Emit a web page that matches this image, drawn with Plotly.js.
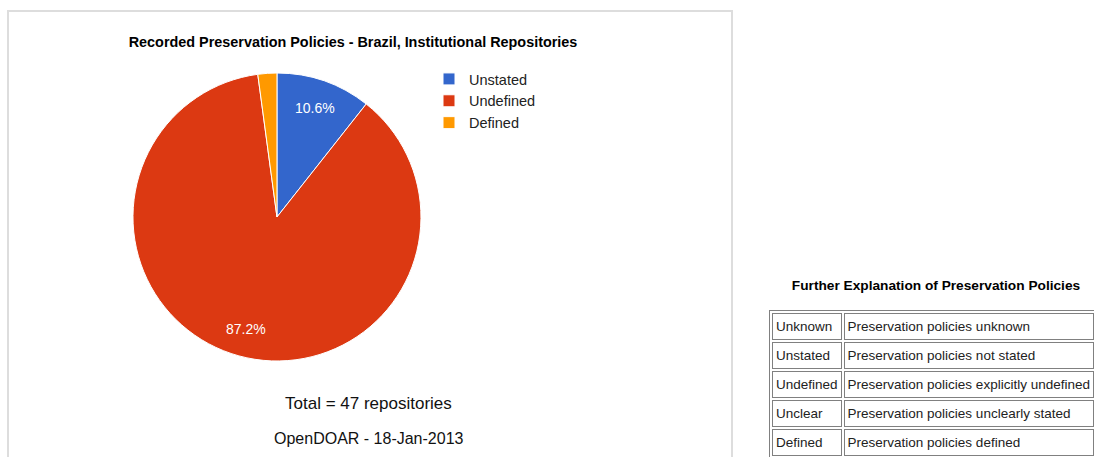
<!DOCTYPE html>
<html>
<head>
<meta charset="utf-8">
<script src="https://cdn.plot.ly/plotly-3.0.1.min.js"></script>
<style>
  html, body { margin:0; padding:0; background:#fff; overflow:hidden; width:1094px; height:457px; font-family:"Liberation Sans", Arial, sans-serif; }
  #frame { position:absolute; left:7px; top:10px; width:722px; height:460px; border:2px solid #dddddd; }
  #chart { position:absolute; left:0; top:0; width:722px; height:446px; }
  #tbltitle { position:absolute; left:760px; width:352px; top:278px; text-align:center; font-weight:bold; font-size:13.7px; color:#000; }
  #tbl { position:absolute; left:769px; top:310px; border-collapse:separate; border-spacing:2px; border:1px solid #808080; font-size:13.5px; color:#222; }
  #tbl td { border:1px solid #808080; padding:5px 3px; line-height:15px; white-space:nowrap; }
</style>
</head>
<body>
<div id="frame"><div id="chart"></div></div>
<div id="tbltitle"></div>
<table id="tbl"></table>
<script>
// ---- data ----
const categories = ["Unstated", "Undefined", "Defined"];
const counts = [5, 41, 1];
const sliceColors = ["#3366cc", "#dc3912", "#ff9900"];
const labelShown = [true, true, false];
const chartTitle = "Recorded Preservation Policies - Brazil, Institutional Repositories";
const totalText = "Total = 47 repositories";
const sourceText = "OpenDOAR - 18-Jan-2013";
const tableTitle = "Further Explanation of Preservation Policies";
const termNames = ["Unknown", "Unstated", "Undefined", "Unclear", "Defined"];
const termDescriptions = [
  "Preservation policies unknown",
  "Preservation policies not stated",
  "Preservation policies explicitly undefined",
  "Preservation policies unclearly stated",
  "Preservation policies defined"
];

const FONT = "Liberation Sans, Arial, sans-serif";
const W = 722, H = 446;
const domX = [0.1717, 0.5706], domY = [0.2175, 0.8632];

const trace = {
  type: "pie",
  labels: categories,
  values: counts,
  marker: { colors: sliceColors, line: { color: "#ffffff", width: 1 } },
  sort: false,
  direction: "clockwise",
  rotation: 0,
  textinfo: "none",
  hoverinfo: "label+value+percent",
  domain: { x: domX, y: domY }
};

// percentage labels placed along each slice's mid-angle, derived from the data
const total = counts.reduce((a, b) => a + b, 0);
const cxPx = (domX[0] + domX[1]) / 2 * W;
const cyPx = (domY[0] + domY[1]) / 2 * H;
const rPx = Math.min((domX[1] - domX[0]) * W, (domY[1] - domY[0]) * H) / 2;
const labelAnns = [];
let cum = 0;
counts.forEach((v, i) => {
  const mid = (cum + v / 2) / total * 2 * Math.PI;
  cum += v;
  if (!labelShown[i]) return;
  const d = 0.805 * rPx;
  labelAnns.push({
    text: (v / total * 100).toFixed(1) + "%",
    xref: "paper", yref: "paper",
    x: (cxPx + d * Math.sin(mid)) / W,
    y: (cyPx + d * Math.cos(mid)) / H,
    xanchor: "center", yanchor: "middle", showarrow: false,
    font: { family: FONT, size: 14, color: "#ffffff" }
  });
});

const layout = {
  width: W,
  height: H,
  margin: { l: 0, r: 0, t: 0, b: 0 },
  paper_bgcolor: "#ffffff",
  showlegend: true,
  title: {
    text: chartTitle,
    font: { family: FONT, size: 14.4, color: "#000000", weight: "bold" },
    x: 0.4765, xref: "paper", xanchor: "center",
    y: 0.9327, yref: "container", yanchor: "middle"
  },
  legend: {
    x: 420 / W, xanchor: "left",
    y: 1 - 51 / H, yanchor: "top",
    font: { family: FONT, size: 14.5, color: "#222222" },
    bgcolor: "rgba(0,0,0,0)",
    traceorder: "normal"
  },
  annotations: labelAnns.concat([
    { text: totalText, xref: "paper", yref: "paper", x: 0.4986, y: 0.1233, xanchor: "center", yanchor: "middle", showarrow: false, font: { family: FONT, size: 17, color: "#111111" } },
    { text: sourceText, xref: "paper", yref: "paper", x: 0.4986, y: 0.0448, xanchor: "center", yanchor: "middle", showarrow: false, font: { family: FONT, size: 16, color: "#111111" } }
  ])
};

Plotly.newPlot("chart", [trace], layout, { displayModeBar: false, staticPlot: true });

// ---- explanation table ----
document.getElementById("tbltitle").textContent = tableTitle;
const tbl = document.getElementById("tbl");
termNames.forEach((name, i) => {
  const tr = document.createElement("tr");
  const a = document.createElement("td"); a.textContent = name;
  const b = document.createElement("td"); b.textContent = termDescriptions[i];
  tr.appendChild(a); tr.appendChild(b); tbl.appendChild(tr);
});
</script>
</body>
</html>
